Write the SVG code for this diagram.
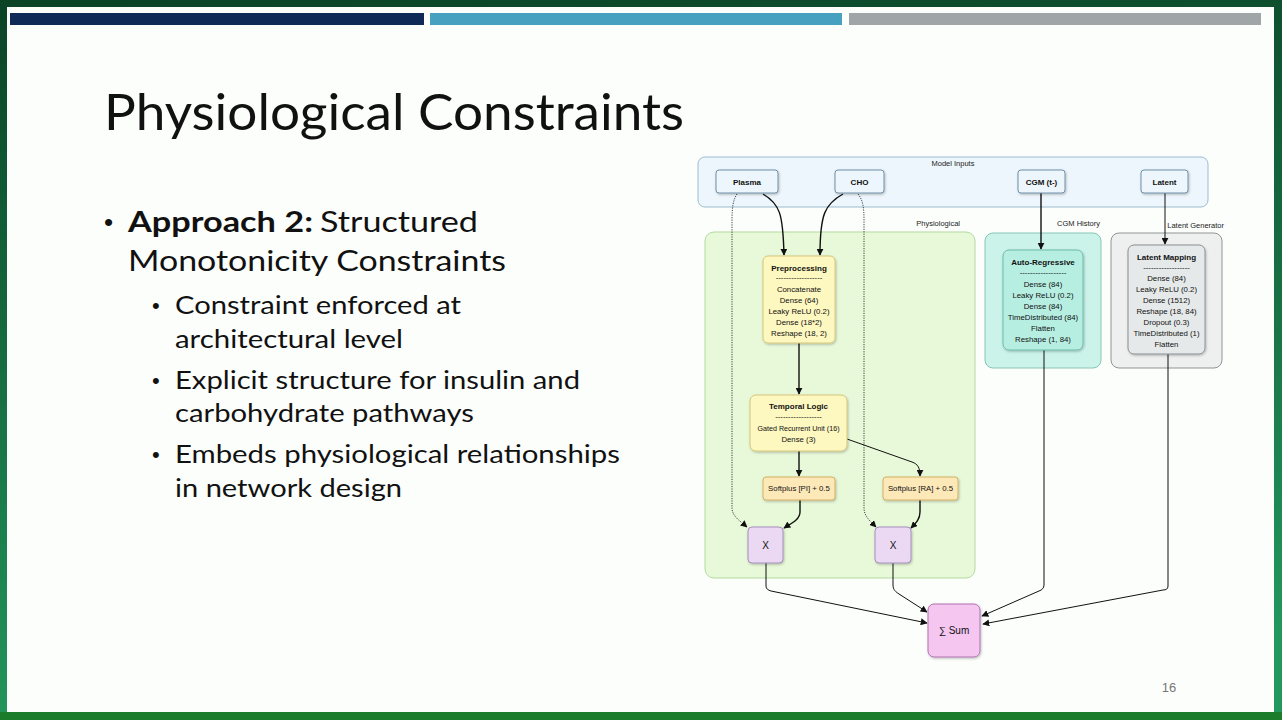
<svg xmlns="http://www.w3.org/2000/svg" width="1282" height="720" viewBox="0 0 1282 720">
<defs>
<linearGradient id="bg" x1="0" y1="0" x2="0.15" y2="1">
<stop offset="0" stop-color="#0a4326"/>
<stop offset="1" stop-color="#23975c"/>
</linearGradient>
<marker id="ah" viewBox="0 0 10 10" refX="9" refY="5" markerWidth="7" markerHeight="7" orient="auto" markerUnits="userSpaceOnUse">
<path d="M0,0 L10,5 L0,10 z" fill="#111"/>
</marker>
<filter id="sh" x="-20%" y="-20%" width="140%" height="140%">
<feDropShadow dx="0.8" dy="1.2" stdDeviation="1" flood-color="#000" flood-opacity="0.25"/>
</filter>
<style>
.title{font-family:Lato,"Open Sans",sans-serif;font-size:51px;fill:#111}
.b1{font-family:Lato,"Open Sans",sans-serif;font-size:29px;fill:#111}
.b2{font-family:Lato,"Open Sans",sans-serif;font-size:25px;fill:#111}
.bul{font-family:"Liberation Sans",Arial,sans-serif;fill:#111}
.grp{stroke-width:1}
.node{stroke-width:1;filter:url(#sh)}
.lbl{font-family:"Liberation Sans",Arial,sans-serif;font-size:7.5px;fill:#222}
.nt{font-family:"Liberation Sans",Arial,sans-serif;font-size:8px;font-weight:bold;fill:#111;text-anchor:middle}
.it{font-family:"Liberation Sans",Arial,sans-serif;font-size:7.8px;fill:#111;text-anchor:middle}
.big{font-family:"Liberation Sans",Arial,sans-serif;font-size:10px;fill:#111;text-anchor:middle}
.conn{fill:none;stroke:#111;stroke-width:1;marker-end:url(#ah)}
.thick{stroke-width:1.4}
.dot{stroke-dasharray:1.2 1.2;stroke-width:0.8}
</style>
</defs>
<rect x="0" y="0" width="1282" height="720" fill="url(#bg)"/>
<rect x="0" y="712" width="1282" height="8" fill="#1b7c2c"/>
<rect x="7" y="7" width="1267" height="705" fill="#fcfefc"/>
<rect x="10" y="13" width="414" height="12" fill="#0f2a57"/>
<rect x="430" y="13" width="412" height="12" fill="#47a0bf"/>
<rect x="849" y="13" width="412" height="12" fill="#a0a5a7"/>

<text class="title" x="104" y="130" textLength="580" lengthAdjust="spacingAndGlyphs">Physiological Constraints</text>

<g id="bullets">
<text class="bul" x="104" y="231" font-size="26">•</text>
<text class="b1" x="128" y="232" font-weight="bold" textLength="185" lengthAdjust="spacingAndGlyphs">Approach 2:</text>
<text class="b1" x="320" y="232" textLength="158" lengthAdjust="spacingAndGlyphs">Structured</text>
<text class="b1" x="128" y="271" textLength="378" lengthAdjust="spacingAndGlyphs">Monotonicity Constraints</text>
<text class="bul" x="152" y="313" font-size="22">•</text>
<text class="b2" x="175" y="314" textLength="286" lengthAdjust="spacingAndGlyphs">Constraint enforced at</text>
<text class="b2" x="175" y="348" textLength="228" lengthAdjust="spacingAndGlyphs">architectural level</text>
<text class="bul" x="152" y="388" font-size="22">•</text>
<text class="b2" x="175" y="389" textLength="405" lengthAdjust="spacingAndGlyphs">Explicit structure for insulin and</text>
<text class="b2" x="175" y="422" textLength="299" lengthAdjust="spacingAndGlyphs">carbohydrate pathways</text>
<text class="bul" x="152" y="462" font-size="22">•</text>
<text class="b2" x="175" y="463" textLength="445" lengthAdjust="spacingAndGlyphs">Embeds physiological relationships</text>
<text class="b2" x="175" y="497" textLength="227" lengthAdjust="spacingAndGlyphs">in network design</text>
</g>

<g id="group-model-inputs">
<rect class="grp" x="698" y="157" width="510" height="50" rx="7" fill="#edf6fc" stroke="#9bbccf"/>
<text class="lbl" x="953" y="166" text-anchor="middle">Model Inputs</text>
</g>
<g id="group-physiological">
<rect class="grp" x="705" y="232" width="270" height="346" rx="9" fill="#e8f9d9" stroke="#b3d99c"/>
<text class="lbl" x="960" y="226" text-anchor="end">Physiological</text>
</g>
<g id="group-cgm-history">
<rect class="grp" x="985" y="233" width="116" height="135" rx="8" fill="#cbf3ea" stroke="#86c6b6"/>
<text class="lbl" x="1100" y="226" text-anchor="end">CGM History</text>
</g>
<g id="group-latent-generator">
<rect class="grp" x="1111" y="233" width="111" height="135" rx="8" fill="#eef0f0" stroke="#8f9494"/>
<text class="lbl" x="1224" y="228" text-anchor="end">Latent Generator</text>
</g>

<g id="connectors">
<path class="conn thick" d="M763,194 C780,204 783,214 784,255"/>
<path class="conn thick" d="M843,194 C825,204 820,214 820,255"/>
<path class="conn dot" d="M737,194 C733,200 732,208 732,220 L732,508 C732,516 740,521 747,527"/>
<path class="conn dot" d="M858,194 C863,200 864,208 864,220 L864,508 C864,516 870,521 876,527"/>
<path class="conn thick" d="M799,343 L799,394"/>
<path class="conn thick" d="M799,451 L799,476"/>
<path class="conn" d="M847,439 L912,462 C918,464 920,468 920,476"/>
<path class="conn thick" d="M800,500 L800,512 C800,520 790,524 784,528"/>
<path class="conn thick" d="M920,500 L920,512 C920,520 915,524 911,528"/>
<path class="conn" d="M766,563 L766,586 C766,589 768,590 771,591 L927,623"/>
<path class="conn" d="M893,563 L893,585 C893,590 896,592 899,594 L927,612"/>
<path class="conn thick" d="M1041,193 L1041,249"/>
<path class="conn" d="M1165,193 L1165,244"/>
<path class="conn" d="M1044,350 L1044,585 C1044,588 1042,590 1039,591 L982,616"/>
<path class="conn" d="M1168,354 L1168,586 C1168,589 1166,590 1163,590 L983,624"/>
</g>

<g id="node-plasma">
<rect class="node" x="716" y="170" width="62" height="23" rx="3" fill="#edf6fc" stroke="#6f8fa6"/>
<text class="nt" x="747" y="185">Plasma</text>
</g>
<g id="node-cho">
<rect class="node" x="835" y="170" width="49" height="23" rx="3" fill="#edf6fc" stroke="#6f8fa6"/>
<text class="nt" x="859.5" y="185">CHO</text>
</g>
<g id="node-cgm">
<rect class="node" x="1018" y="170" width="47" height="23" rx="3" fill="#edf6fc" stroke="#6f8fa6"/>
<text class="nt" x="1041.5" y="185">CGM (t-)</text>
</g>
<g id="node-latent">
<rect class="node" x="1141" y="170" width="47" height="23" rx="3" fill="#edf6fc" stroke="#6f8fa6"/>
<text class="nt" x="1164.5" y="185">Latent</text>
</g>

<g id="node-preprocessing">
<rect class="node" x="763" y="256" width="72" height="87" rx="5" fill="#fdf7c0" stroke="#d6c67a"/>
<text class="nt" x="799" y="271">Preprocessing</text>
<text class="it" x="799" y="280">------------------</text>
<text class="it" x="799" y="292">Concatenate</text>
<text class="it" x="799" y="303">Dense (64)</text>
<text class="it" x="799" y="314">Leaky ReLU (0.2)</text>
<text class="it" x="799" y="325">Dense (18*2)</text>
<text class="it" x="799" y="336">Reshape (18, 2)</text>
</g>
<g id="node-temporal">
<rect class="node" x="750" y="395" width="97" height="56" rx="6" fill="#fdf7c0" stroke="#d6c67a"/>
<text class="nt" x="798.5" y="409">Temporal Logic</text>
<text class="it" x="798.5" y="419">------------------</text>
<text class="it" x="798.5" y="431" textLength="82" lengthAdjust="spacingAndGlyphs">Gated Recurrent Unit (16)</text>
<text class="it" x="798.5" y="442">Dense (3)</text>
</g>
<g id="node-softplus-pi">
<rect class="node" x="763" y="477" width="72" height="23" rx="3" fill="#fde8b8" stroke="#d4b062"/>
<text class="it" x="799" y="491">Softplus [PI] + 0.5</text>
</g>
<g id="node-softplus-ra">
<rect class="node" x="883" y="477" width="75" height="23" rx="3" fill="#fde8b8" stroke="#d4b062"/>
<text class="it" x="920.5" y="491">Softplus [RA] + 0.5</text>
</g>
<g id="node-x1">
<rect class="node" x="748" y="527" width="35" height="36" rx="4" fill="#ebd9f4" stroke="#a58fbd"/>
<text class="big" x="765.5" y="549">X</text>
</g>
<g id="node-x2">
<rect class="node" x="875" y="527" width="36" height="36" rx="4" fill="#ebd9f4" stroke="#a58fbd"/>
<text class="big" x="893" y="549">X</text>
</g>

<g id="node-autoregressive">
<rect class="node" x="1003" y="250" width="80" height="100" rx="6" fill="#b6eee1" stroke="#6cbca8"/>
<text class="nt" x="1043" y="265">Auto-Regressive</text>
<text class="it" x="1043" y="275">------------------</text>
<text class="it" x="1043" y="287">Dense (84)</text>
<text class="it" x="1043" y="298">Leaky ReLU (0.2)</text>
<text class="it" x="1043" y="309">Dense (84)</text>
<text class="it" x="1043" y="320">TimeDistributed (84)</text>
<text class="it" x="1043" y="331">Flatten</text>
<text class="it" x="1043" y="342">Reshape (1, 84)</text>
</g>
<g id="node-latent-mapping">
<rect class="node" x="1128" y="245" width="77" height="109" rx="6" fill="#e6e9e9" stroke="#8a8f8f"/>
<text class="nt" x="1166.5" y="260">Latent Mapping</text>
<text class="it" x="1166.5" y="270">------------------</text>
<text class="it" x="1166.5" y="281">Dense (84)</text>
<text class="it" x="1166.5" y="292">Leaky ReLU (0.2)</text>
<text class="it" x="1166.5" y="303">Dense (1512)</text>
<text class="it" x="1166.5" y="314">Reshape (18, 84)</text>
<text class="it" x="1166.5" y="325">Dropout (0.3)</text>
<text class="it" x="1166.5" y="336">TimeDistributed (1)</text>
<text class="it" x="1166.5" y="347">Flatten</text>
</g>
<g id="node-sum">
<rect class="node" x="928" y="604" width="52" height="53" rx="6" fill="#f4c6f0" stroke="#b070b0"/>
<text class="big" x="954" y="634">∑ Sum</text>
</g>

<text x="1169" y="692" font-family="'Liberation Sans',Arial,sans-serif" font-size="13" fill="#777" text-anchor="middle">16</text>
</svg>
